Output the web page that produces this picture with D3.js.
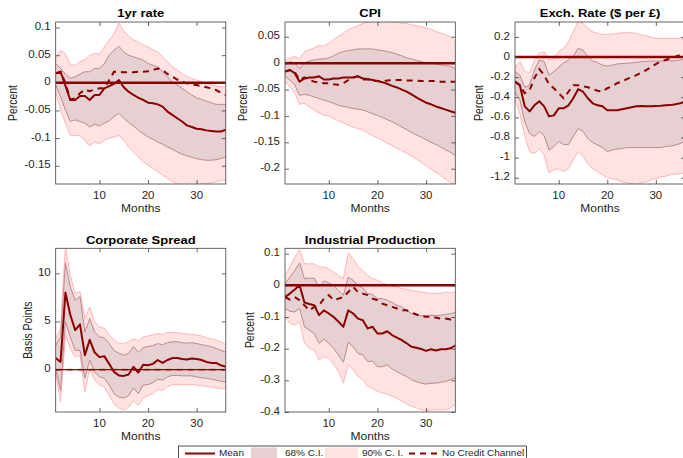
<!DOCTYPE html>
<html><head><meta charset="utf-8">
<script src="https://cdn.jsdelivr.net/npm/d3@7"></script>
<style>
body{margin:0;background:#fff;}
svg{display:block;font-family:"Liberation Sans",Arial,Helvetica,sans-serif;}
</style></head><body>
<svg id="c" width="683" height="458"></svg>
<script>
const months = d3.range(1, 37);

// 1yr rate
const rateMean = [0.017,0.02,-0.005,-0.031,-0.031,-0.024,-0.024,-0.031,-0.022,-0.022,-0.01,-0.006,-0.002,0.005,-0.008,-0.016,-0.022,-0.027,-0.031,-0.036,-0.037,-0.039,-0.043,-0.052,-0.058,-0.064,-0.07,-0.077,-0.08,-0.083,-0.084,-0.086,-0.087,-0.088,-0.088,-0.085];
const rateNoCredit = [0.017,0.02,0.0,-0.03,-0.028,-0.019,-0.012,-0.015,-0.012,-0.01,-0.01,0.005,0.02,0.02,0.019,0.019,0.019,0.02,0.02,0.021,0.023,0.026,0.023,0.016,0.011,0.006,0.002,-0.001,-0.003,-0.004,-0.006,-0.008,-0.01,-0.013,-0.018,-0.022];
const rate68Hi = [0.035,0.026,0.016,0.008,0.011,0.016,0.02,0.02,0.026,0.026,0.035,0.05,0.059,0.066,0.056,0.05,0.047,0.044,0.041,0.035,0.032,0.029,0.02,0.011,0.002,-0.004,-0.01,-0.016,-0.022,-0.027,-0.03,-0.033,-0.036,-0.039,-0.039,-0.039];
const rate68Lo = [-0.004,-0.025,-0.049,-0.07,-0.067,-0.07,-0.073,-0.08,-0.075,-0.078,-0.073,-0.069,-0.061,-0.055,-0.064,-0.072,-0.078,-0.086,-0.092,-0.098,-0.102,-0.107,-0.111,-0.116,-0.12,-0.125,-0.129,-0.132,-0.135,-0.137,-0.139,-0.14,-0.14,-0.139,-0.137,-0.134];
const rate90Hi = [0.044,0.059,0.053,0.032,0.032,0.038,0.042,0.05,0.053,0.052,0.065,0.077,0.089,0.108,0.094,0.084,0.078,0.074,0.068,0.065,0.06,0.056,0.047,0.038,0.029,0.023,0.017,0.012,0.008,0.005,0.002,-0.001,-0.004,-0.006,-0.007,-0.008];
const rate90Lo = [-0.016,-0.049,-0.073,-0.095,-0.095,-0.096,-0.104,-0.114,-0.107,-0.11,-0.104,-0.1,-0.098,-0.095,-0.104,-0.116,-0.125,-0.134,-0.143,-0.149,-0.155,-0.161,-0.167,-0.173,-0.179,-0.182,-0.188,-0.188,-0.185,-0.185,-0.183,-0.182,-0.181,-0.179,-0.177,-0.176];

// CPI
const cpiMean = [-0.016,-0.013,-0.019,-0.035,-0.029,-0.027,-0.027,-0.025,-0.031,-0.031,-0.029,-0.029,-0.027,-0.027,-0.027,-0.025,-0.029,-0.03,-0.032,-0.034,-0.036,-0.039,-0.043,-0.046,-0.05,-0.054,-0.059,-0.065,-0.07,-0.075,-0.078,-0.082,-0.085,-0.088,-0.091,-0.094];
const cpiNoCredit = [-0.016,-0.013,-0.017,-0.032,-0.027,-0.032,-0.035,-0.037,-0.038,-0.038,-0.04,-0.041,-0.038,-0.032,-0.027,-0.025,-0.031,-0.031,-0.034,-0.034,-0.035,-0.033,-0.032,-0.032,-0.032,-0.033,-0.033,-0.033,-0.034,-0.034,-0.034,-0.034,-0.035,-0.035,-0.035,-0.035];
const cpi68Hi = [-0.003,0.003,0.0,-0.01,0.0,0.004,0.006,0.008,0.008,0.01,0.014,0.019,0.022,0.024,0.025,0.027,0.027,0.027,0.027,0.025,0.024,0.022,0.02,0.017,0.014,0.01,0.008,0.005,0.003,0.001,0.0,-0.001,-0.003,-0.005,-0.006,-0.01];
const cpi68Lo = [-0.025,-0.032,-0.041,-0.061,-0.059,-0.061,-0.064,-0.067,-0.07,-0.073,-0.076,-0.08,-0.082,-0.084,-0.086,-0.087,-0.089,-0.092,-0.096,-0.099,-0.103,-0.107,-0.111,-0.116,-0.121,-0.126,-0.131,-0.136,-0.14,-0.145,-0.15,-0.154,-0.159,-0.164,-0.169,-0.175];
const cpi90Hi = [0.003,0.01,0.013,0.008,0.022,0.025,0.029,0.034,0.032,0.038,0.045,0.051,0.057,0.064,0.067,0.071,0.075,0.078,0.08,0.08,0.08,0.08,0.079,0.078,0.076,0.075,0.073,0.071,0.069,0.067,0.064,0.06,0.057,0.054,0.05,0.041];
const cpi90Lo = [-0.035,-0.045,-0.057,-0.078,-0.076,-0.083,-0.089,-0.094,-0.099,-0.1,-0.105,-0.11,-0.113,-0.118,-0.121,-0.124,-0.127,-0.132,-0.137,-0.142,-0.146,-0.152,-0.156,-0.161,-0.166,-0.171,-0.176,-0.182,-0.188,-0.194,-0.201,-0.207,-0.213,-0.22,-0.226,-0.231];

// Exchange rate
const fxMean = [-0.245,-0.28,-0.49,-0.54,-0.48,-0.44,-0.49,-0.59,-0.58,-0.51,-0.51,-0.48,-0.41,-0.32,-0.345,-0.41,-0.46,-0.48,-0.49,-0.53,-0.53,-0.53,-0.52,-0.51,-0.5,-0.49,-0.488,-0.49,-0.49,-0.488,-0.485,-0.48,-0.478,-0.47,-0.46,-0.445];
const fxNoCredit = [-0.245,-0.28,-0.36,-0.33,-0.21,-0.12,-0.18,-0.27,-0.31,-0.36,-0.41,-0.345,-0.28,-0.28,-0.29,-0.3,-0.32,-0.335,-0.345,-0.31,-0.29,-0.26,-0.245,-0.22,-0.2,-0.18,-0.155,-0.13,-0.1,-0.07,-0.045,-0.03,-0.013,0.003,0.02,0.03];
const fx68Hi = [-0.145,-0.18,-0.3,-0.28,-0.13,-0.03,-0.045,-0.18,-0.145,-0.1,-0.06,-0.03,0.01,0.086,0.07,0.003,-0.04,-0.056,-0.08,-0.09,-0.08,-0.07,-0.065,-0.063,-0.058,-0.053,-0.046,-0.043,-0.04,-0.04,-0.04,-0.037,-0.037,-0.037,-0.03,-0.023];
const fx68Lo = [-0.345,-0.43,-0.64,-0.76,-0.79,-0.74,-0.78,-0.925,-0.89,-0.84,-0.87,-0.87,-0.79,-0.71,-0.74,-0.81,-0.85,-0.875,-0.9,-0.94,-0.925,-0.915,-0.91,-0.9,-0.9,-0.9,-0.9,-0.9,-0.9,-0.9,-0.9,-0.89,-0.885,-0.875,-0.86,-0.84];
const fx90Hi = [-0.1,-0.046,-0.145,-0.155,-0.03,0.036,0.053,-0.03,-0.013,0.053,0.086,0.15,0.25,0.36,0.335,0.285,0.25,0.235,0.225,0.225,0.228,0.235,0.24,0.243,0.24,0.235,0.22,0.21,0.196,0.186,0.186,0.186,0.186,0.186,0.186,0.186];
const fx90Lo = [-0.43,-0.56,-0.79,-0.94,-0.96,-0.91,-0.975,-1.15,-1.12,-1.11,-1.14,-1.11,-1.02,-0.94,-0.99,-1.06,-1.11,-1.14,-1.17,-1.2,-1.21,-1.22,-1.24,-1.25,-1.26,-1.27,-1.25,-1.24,-1.22,-1.21,-1.19,-1.185,-1.17,-1.165,-1.16,-1.15];

// Corporate spread
const spreadMean = [1.2,0.8,8.0,5.7,4.1,4.7,1.5,3.1,1.8,1.3,1.4,0.6,-0.25,-0.6,-0.65,-0.5,0.3,-0.3,0.5,0.45,0.6,1.0,0.7,1.0,1.2,1.2,1.1,1.05,1.15,1.1,1.0,0.8,0.7,0.7,0.45,0.3];
const spreadNoCredit = [0,0,0,0,0,0,0,0,0,0,0,0,0,0,0,0,0,0,0,0,0,0,0,0,0,0,0,0,0,0,0,0,0,0,0,0];
const spread68Hi = [2.5,3.4,11.1,8.6,7.2,7.6,3.9,5.3,3.9,3.4,3.3,2.7,2.0,1.7,1.5,1.7,2.4,1.8,2.3,2.4,2.5,2.7,2.6,2.8,2.9,2.9,2.8,2.75,2.8,2.7,2.6,2.5,2.4,2.2,2.0,1.8];
const spread68Lo = [0.1,-2.15,5.0,3.4,2.0,2.0,-0.9,1.0,-0.25,-0.75,-0.9,-1.6,-2.5,-2.85,-2.95,-2.7,-1.9,-2.5,-1.6,-1.55,-1.35,-1.0,-1.1,-0.75,-0.6,-0.6,-0.65,-0.65,-0.65,-0.75,-0.85,-0.9,-1.0,-1.1,-1.2,-1.3];
const spread90Hi = [3.2,4.3,12.8,9.8,7.9,8.1,5.3,6.5,5.0,4.4,4.3,3.6,3.1,2.7,2.7,2.9,3.2,3.0,3.4,3.5,3.6,3.75,3.65,3.85,3.85,3.85,3.75,3.7,3.65,3.6,3.5,3.3,3.2,3.05,2.9,2.6];
const spread90Lo = [-0.25,-3.35,3.6,2.2,1.3,1.5,-2.3,0.1,-1.1,-1.6,-1.8,-2.7,-3.55,-4.0,-4.2,-3.9,-3.2,-3.7,-2.95,-2.7,-2.5,-2.05,-2.15,-1.8,-1.55,-1.55,-1.55,-1.55,-1.55,-1.6,-1.68,-1.75,-1.8,-1.9,-1.95,-2.0];

// Industrial production
const ipMean = [-0.037,-0.026,-0.013,0.0,-0.054,-0.059,-0.063,-0.094,-0.079,-0.089,-0.1,-0.115,-0.131,-0.079,-0.089,-0.105,-0.11,-0.136,-0.131,-0.152,-0.152,-0.145,-0.157,-0.165,-0.173,-0.183,-0.194,-0.197,-0.201,-0.207,-0.202,-0.206,-0.202,-0.202,-0.199,-0.19];
const ipNoCredit = [-0.037,-0.045,-0.037,-0.047,-0.063,-0.079,-0.068,-0.063,-0.042,-0.031,-0.047,-0.042,-0.037,-0.021,-0.005,-0.021,-0.026,-0.031,-0.042,-0.047,-0.058,-0.063,-0.068,-0.073,-0.079,-0.079,-0.086,-0.092,-0.096,-0.099,-0.099,-0.102,-0.105,-0.105,-0.108,-0.112];
const ip68Hi = [0.005,0.026,0.047,0.071,0.021,0.023,0.023,-0.005,0.013,0.008,0.0,-0.016,-0.031,0.026,0.016,0.0,-0.008,-0.026,-0.029,-0.042,-0.042,-0.047,-0.054,-0.063,-0.068,-0.079,-0.089,-0.094,-0.096,-0.097,-0.094,-0.096,-0.094,-0.092,-0.089,-0.086];
const ip68Lo = [-0.073,-0.082,-0.084,-0.073,-0.131,-0.141,-0.152,-0.183,-0.17,-0.183,-0.199,-0.22,-0.243,-0.18,-0.194,-0.215,-0.22,-0.241,-0.239,-0.257,-0.257,-0.251,-0.264,-0.272,-0.281,-0.288,-0.298,-0.304,-0.309,-0.312,-0.309,-0.309,-0.306,-0.304,-0.298,-0.293];
const ip90Hi = [0.031,0.058,0.089,0.113,0.068,0.068,0.068,0.058,0.058,0.052,0.042,0.031,0.021,0.103,0.084,0.058,0.047,0.031,0.021,0.016,0.008,0.002,-0.002,-0.005,-0.01,-0.013,-0.016,-0.019,-0.021,-0.023,-0.026,-0.026,-0.024,-0.021,-0.023,-0.021];
const ip90Lo = [-0.099,-0.12,-0.126,-0.115,-0.183,-0.199,-0.204,-0.236,-0.225,-0.23,-0.249,-0.272,-0.309,-0.251,-0.267,-0.288,-0.298,-0.319,-0.325,-0.335,-0.34,-0.343,-0.351,-0.356,-0.366,-0.375,-0.382,-0.387,-0.393,-0.396,-0.393,-0.393,-0.393,-0.393,-0.387,-0.377];

// Tick values / labels
const xTicks = [10, 20, 30];
const rateTicks = [-0.15, -0.1, -0.05, 0, 0.05, 0.1];
const cpiTicks = [-0.2, -0.15, -0.1, -0.05, 0, 0.05];
const fxTicks = [-1.2, -1, -0.8, -0.6, -0.4, -0.2, 0, 0.2];
const spreadTicks = [0, 5, 10];
const ipTicks = [-0.4, -0.3, -0.2, -0.1, 0, 0.1];

const titles = ["1yr rate", "CPI", "Exch. Rate ($ per £)", "Corporate Spread", "Industrial Production"];
const yLabels = ["Percent", "Percent", "Percent", "Basis Points", "Percent"];
const legendLabels = ["Mean", "68% C.I.", "90% C. I.", "No Credit Channel"];

const panels = [
  {mean: rateMean, nc: rateNoCredit, hi68: rate68Hi, lo68: rate68Lo, hi90: rate90Hi, lo90: rate90Lo, ticks: rateTicks, dom: [-0.183, 0.11], box: [55.7, 225.8, 22, 184], ylx: 13.5, thin: false},
  {mean: cpiMean, nc: cpiNoCredit, hi68: cpi68Hi, lo68: cpi68Lo, hi90: cpi90Hi, lo90: cpi90Lo, ticks: cpiTicks, dom: [-0.229, 0.078], box: [285, 455.3, 22, 184], ylx: 244, thin: false},
  {mean: fxMean, nc: fxNoCredit, hi68: fx68Hi, lo68: fx68Lo, hi90: fx90Hi, lo90: fx90Lo, ticks: fxTicks, dom: [-1.262, 0.348], box: [515, 685, 22, 184], ylx: 480, thin: false},
  {mean: spreadMean, nc: spreadNoCredit, hi68: spread68Hi, lo68: spread68Lo, hi90: spread90Hi, lo90: spread90Lo, ticks: spreadTicks, dom: [-4.4, 12.6], box: [55.7, 225.8, 248.3, 412], ylx: 29, thin: true},
  {mean: ipMean, nc: ipNoCredit, hi68: ip68Hi, lo68: ip68Lo, hi90: ip90Hi, lo90: ip90Lo, ticks: ipTicks, dom: [-0.4, 0.117], box: [285, 455.3, 248.3, 412], ylx: 250.5, thin: false}
];

const C = {
  dark: "#8b0000",
  f90: "#ffe3e3", e90: "#ffb5b5",
  f68: "#e7d0d2", e68: "#b98a8d",
  axis: "#404040", text: "#262626"
};
const K = 0.87; // slight vertical squash of text in the reference

const svg = d3.select("#c");
const defs = svg.append("defs");

function txt(g, x, y, s, size, opt = {}) {
  const t = g.append("text")
    .attr("transform", opt.rot ? `translate(${x},${y}) rotate(-90) scale(${K},1)` : `translate(${x},${y}) scale(1,${K})`)
    .attr("font-size", size).attr("fill", opt.fill || C.text)
    .attr("text-anchor", opt.anchor || "start")
    .attr("dominant-baseline", opt.base || "auto")
    .text(s);
  if (opt.bold) t.attr("font-weight", "bold");
  return t;
}

panels.forEach((p, i) => {
  const [x0, x1, y0, y1] = p.box;
  const x = d3.scaleLinear().domain([1, 36]).range([x0, x1]);
  const y = d3.scaleLinear().domain(p.dom).range([y1, y0]);
  const g = svg.append("g");
  const cid = "clip" + i;
  defs.append("clipPath").attr("id", cid).append("rect")
    .attr("x", x0).attr("y", y0).attr("width", x1 - x0).attr("height", y1 - y0);
  const pg = g.append("g").attr("clip-path", `url(#${cid})`);

  const area = (lo, hi) => d3.area().x((d, k) => x(months[k])).y0((d, k) => y(lo[k])).y1((d, k) => y(hi[k]))(months);
  const line = arr => d3.line().x((d, k) => x(months[k])).y((d, k) => y(arr[k]))(months);

  pg.append("path").attr("d", area(p.lo90, p.hi90)).attr("fill", C.f90);
  pg.append("path").attr("d", area(p.lo68, p.hi68)).attr("fill", C.f68);
  [p.hi90, p.lo90].forEach(a => pg.append("path").attr("d", line(a)).attr("fill", "none").attr("stroke", C.e90).attr("stroke-width", 1));
  [p.hi68, p.lo68].forEach(a => pg.append("path").attr("d", line(a)).attr("fill", "none").attr("stroke", C.e68).attr("stroke-width", 1));

  pg.append("line").attr("x1", x0).attr("x2", x1).attr("y1", y(0)).attr("y2", y(0))
    .attr("stroke", C.dark).attr("stroke-width", p.thin ? 1.2 : 2.5);

  pg.append("path").attr("d", line(p.nc)).attr("fill", "none").attr("stroke", C.dark)
    .attr("stroke-width", 2).attr("stroke-dasharray", "6,5").attr("opacity", p.thin ? 0.55 : 1);
  pg.append("path").attr("d", line(p.mean)).attr("fill", "none").attr("stroke", C.dark)
    .attr("stroke-width", 2).attr("stroke-linejoin", "round");

  g.append("rect").attr("x", x0).attr("y", y0).attr("width", x1 - x0).attr("height", y1 - y0)
    .attr("fill", "none").attr("stroke", C.axis).attr("stroke-width", 0.8);

  const axes = [
    g.append("g").attr("transform", `translate(0,${y1})`).call(d3.axisBottom(x).tickValues(xTicks).tickSize(-4).tickFormat("")),
    g.append("g").attr("transform", `translate(0,${y0})`).call(d3.axisTop(x).tickValues(xTicks).tickSize(-4).tickFormat("")),
    g.append("g").attr("transform", `translate(${x0},0)`).call(d3.axisLeft(y).tickValues(p.ticks).tickSize(-4).tickFormat("")),
    g.append("g").attr("transform", `translate(${x1},0)`).call(d3.axisRight(y).tickValues(p.ticks).tickSize(-4).tickFormat(""))
  ];
  axes.forEach(a => {
    a.select(".domain").remove();
    a.selectAll("text").remove();
    a.selectAll("line").attr("stroke", C.axis).attr("stroke-width", 0.8);
  });

  xTicks.forEach(t => txt(g, x(t), y1 + 12, String(t), 11.5, {anchor: "middle", base: "middle"}));
  p.ticks.forEach(t => txt(g, x0 - 5, y(t), String(t), 11.5, {anchor: "end", base: "middle"}));

  txt(g, (x0 + x1) / 2, y0 - 4.7, titles[i], 13, {anchor: "middle", bold: true, fill: "#000"});
  txt(g, (x0 + x1) / 2, y1 + 28.3, "Months", 12, {anchor: "middle"});
  txt(g, p.ylx, (y0 + y1) / 2, yLabels[i], 12, {anchor: "middle", base: "middle", rot: true});
});

// legend
const lg = svg.append("g");
lg.append("rect").attr("x", 178.5).attr("y", 446).attr("width", 348).attr("height", 20)
  .attr("fill", "#fff").attr("stroke", C.text).attr("stroke-width", 0.8);
const ly = 453.5;
lg.append("line").attr("x1", 185).attr("x2", 215).attr("y1", ly).attr("y2", ly).attr("stroke", C.dark).attr("stroke-width", 2);
txt(lg, 219, ly, legendLabels[0], 10, {base: "middle"});
lg.append("rect").attr("x", 251).attr("y", 447.5).attr("width", 26).attr("height", 12).attr("fill", C.f68);
txt(lg, 285, ly, legendLabels[1], 10, {base: "middle"});
lg.append("rect").attr("x", 325).attr("y", 447.5).attr("width", 33).attr("height", 12).attr("fill", C.f90);
txt(lg, 362, ly, legendLabels[2], 10, {base: "middle"});
lg.append("line").attr("x1", 409).attr("x2", 440).attr("y1", ly).attr("y2", ly).attr("stroke", C.dark).attr("stroke-width", 2).attr("stroke-dasharray", "6,5");
txt(lg, 442, ly, legendLabels[3], 10, {base: "middle"});
</script>
</body></html>
